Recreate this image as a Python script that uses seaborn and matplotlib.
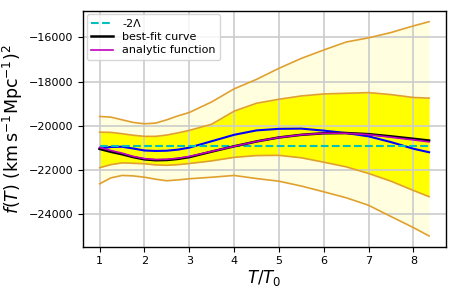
import matplotlib
matplotlib.use("Agg")
import matplotlib.pyplot as plt
import seaborn as sns
import pandas as pd

# ---- data ----
T = [1.0, 1.25, 1.5, 1.75, 2.0, 2.25, 2.5, 2.75, 3.0, 3.5, 4.0, 4.5, 5.0,
     5.5, 6.0, 6.5, 7.0, 7.5, 8.0, 8.35]

outer_upper = [-19580, -19610, -19730, -19850, -19910, -19880, -19730, -19550,
               -19400, -18920, -18330, -17900, -17400, -16950, -16570, -16210,
               -16020, -15780, -15480, -15290]
inner_upper = [-20290, -20300, -20360, -20430, -20480, -20480, -20420, -20320,
               -20210, -19930, -19340, -18980, -18800, -18650, -18560, -18530,
               -18500, -18590, -18720, -18750]
inner_lower = [-21900, -21760, -21680, -21700, -21720, -21770, -21790, -21760,
               -21710, -21590, -21430, -21350, -21340, -21450, -21650, -21860,
               -22160, -22510, -22930, -23210]
outer_lower = [-22630, -22360, -22250, -22270, -22330, -22420, -22490, -22450,
               -22400, -22330, -22250, -22390, -22510, -22730, -22990, -23260,
               -23600, -24110, -24610, -24990]
blue_curve = [-21040, -20960, -20950, -21030, -21120, -21140, -21130, -21080,
              -20990, -20700, -20410, -20210, -20140, -20130, -20220, -20330,
              -20480, -20740, -21040, -21200]
best_fit = [-21050, -21180, -21290, -21420, -21520, -21560, -21550, -21500,
            -21420, -21170, -20930, -20710, -20530, -20410, -20340, -20330,
            -20380, -20480, -20590, -20670]
analytic = [-20980, -21120, -21240, -21390, -21490, -21530, -21520, -21470,
            -21390, -21160, -20930, -20710, -20530, -20410, -20340, -20340,
            -20400, -20520, -20640, -20730]
minus_two_lambda = -20930

df = pd.DataFrame({"T": T, "ou": outer_upper, "iu": inner_upper,
                   "il": inner_lower, "ol": outer_lower, "blue": blue_curve,
                   "fit": best_fit, "ana": analytic})
df["lam"] = minus_two_lambda

# ---- figure ----
fig, ax = plt.subplots(figsize=(4.57, 2.93), dpi=100)
fig.subplots_adjust(left=0.182, right=0.975, bottom=0.158, top=0.9625)

edge = "#e0a030"
ax.fill_between(df["T"], df["ol"], df["ou"], color="#ffffe0", lw=0)
ax.fill_between(df["T"], df["il"], df["iu"], color="#ffff00", lw=0)
for col in ["ou", "iu", "il", "ol"]:
    sns.lineplot(data=df, x="T", y=col, ax=ax, color=edge, lw=1.2)

sns.lineplot(data=df, x="T", y="blue", ax=ax, color="blue", lw=1.5)
sns.lineplot(data=df, x="T", y="lam", ax=ax, color="#00bfbf", lw=1.5,
             linestyle="--", label="-2Λ")
sns.lineplot(data=df, x="T", y="fit", ax=ax, color="black", lw=1.8,
             label="best-fit curve")
sns.lineplot(data=df, x="T", y="ana", ax=ax, color="#bf00bf", lw=1.2,
             label="analytic function")

ax.grid(True, color="#cccccc", lw=1.2)
ax.set_axisbelow("line")
ax.set_xticks([1, 2, 3, 4, 5, 6, 7, 8])
ax.set_yticks([-24000, -22000, -20000, -18000, -16000])
ax.tick_params(labelsize=8, length=3.5, width=0.8)
for s in ax.spines.values():
    s.set_linewidth(1.0)

ax.set_xlabel(r"$T/T_0$", fontsize=12, labelpad=1)
ax.set_ylabel(r"$f(T)$ (km$\,$s$^{-1}$Mpc$^{-1}$)$^2$", fontsize=12.5,
              labelpad=3)
ax.legend(loc="upper left", fontsize=8, handlelength=2.0,
          borderaxespad=0.3, labelspacing=0.3)

fig.savefig("out.png", dpi=100)
